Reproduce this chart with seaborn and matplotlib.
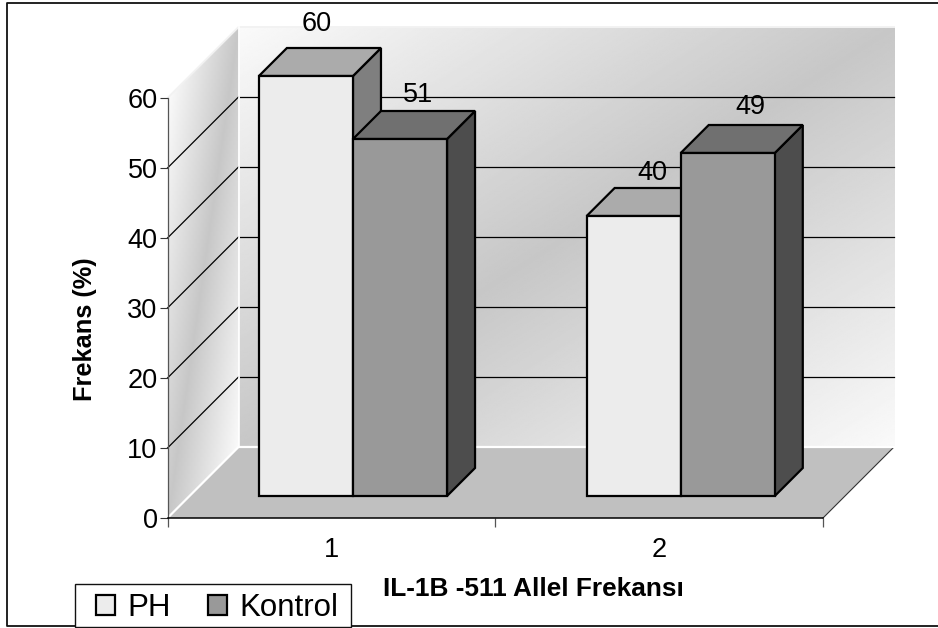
import numpy as np
import pandas as pd
import matplotlib
matplotlib.use("Agg")
import matplotlib.pyplot as plt
import seaborn as sns
from matplotlib.patches import Polygon, Rectangle
from matplotlib.transforms import Affine2D, IdentityTransform

# ---- data ----
alleles = ["1", "2"]
ph_values = [60, 40]
kontrol_values = [51, 49]
series_names = ["PH", "Kontrol"]
y_ticks = [0, 10, 20, 30, 40, 50, 60]
x_title = "IL-1B -511 Allel Frekansı"
y_title = "Frekans (%)"

# ---- layout (image pixels, y measured from the top) ----
W, H = 938, 628
AX_L, AX_R, AX_T, AX_B = 167.5, 823.0, 98.0, 518.0
WALL = 71.0          # depth of the chart box
BAR_SHIFT = (21.6, 22.0)  # bar front plane relative to the axis plane
BAR_DEPTH = 28.0
LABEL_OFFSETS = [[(32, 74), (40, 65.5)], [(40, 65.5), (44, 68)]]
FRONT = {"PH": "#ECECEC", "Kontrol": "#999999"}
TOP = {"PH": "#ABABAB", "Kontrol": "#707070"}
SIDE = {"PH": "#7F7F7F", "Kontrol": "#4D4D4D"}

plt.rcParams["font.family"] = ["Liberation Sans", "DejaVu Sans"]
fig = plt.figure(figsize=(W / 100, H / 100), dpi=100, facecolor="white")

# ---- chart box in pixel coordinates ----
bg = fig.add_axes([0, 0, 1, 1], zorder=0)
bg.axis("off")


def wall_shade(u, h):
    t = u + h
    return 0.98 - (0.98 - 0.78) * (1 - np.abs(t - 1))


xx, yy = np.meshgrid(np.linspace(0, 1, 300), np.linspace(0, 1, 300))
bg.imshow(wall_shade(xx, yy), cmap="gray", vmin=0, vmax=1, aspect="auto",
          extent=(AX_L + WALL, AX_R + WALL, AX_B - WALL, AX_T - WALL), origin="upper")
side_px = np.linspace(AX_T - WALL, AX_B, 500)
sx, sy = np.meshgrid(np.linspace(0, 1, 120), side_px)
side_h = (sy - (AX_T - WALL * sx)) / (AX_B - AX_T)
side_img = bg.imshow(wall_shade(sx, side_h), cmap="gray", vmin=0, vmax=1, aspect="auto",
                     extent=(AX_L, AX_L + WALL, AX_B, AX_T - WALL), origin="upper")
side_poly = Polygon([(AX_L, AX_T), (AX_L + WALL, AX_T - WALL), (AX_L + WALL, AX_B - WALL), (AX_L, AX_B)],
                    closed=True, facecolor="none", edgecolor="none", transform=bg.transData)
bg.add_patch(side_poly)
side_img.set_clip_path(side_poly)
bg.add_patch(Polygon([(AX_L, AX_B), (AX_R, AX_B), (AX_R + WALL, AX_B - WALL), (AX_L + WALL, AX_B - WALL)],
                     closed=True, facecolor="#C0C0C0", edgecolor="none"))
bg.plot([AX_R, AX_R + WALL], [AX_B, AX_B - WALL], color="#333333", lw=0.8)
px_per_unit = (AX_B - AX_T) / y_ticks[-1]
for level in y_ticks[1:-1]:
    yp = AX_B - level * px_per_unit
    bg.plot([AX_L, AX_L + WALL], [yp, yp - WALL], color="black", lw=0.9)
    bg.plot([AX_L + WALL + 1.5, AX_R + WALL], [yp - WALL, yp - WALL], color="black", lw=0.9)
# pale edges of the box
bg.plot([AX_L, AX_L + WALL, AX_R + WALL], [AX_T, AX_T - WALL, AX_T - WALL], color="#F2F2F2", lw=1.4)
bg.plot([AX_L, AX_L + WALL, AX_R + WALL], [AX_B, AX_B - WALL, AX_B - WALL], color="white", lw=1.6)
bg.plot([AX_L + WALL, AX_L + WALL], [AX_T - WALL, AX_B - WALL], color="white", lw=1.2)
# outer frame, running off the right side of the image
bg.plot([W + 5, 7, 7, W + 5], [2.5, 2.5, 626, 626], color="#111111", lw=1.3)
bg.add_patch(Rectangle((75.3, 584.3), 275.7, 42.4, facecolor="white", edgecolor="#111111", lw=1.0, zorder=5))
bg.set_xlim(0, W)
bg.set_ylim(H, 0)

# ---- bars through seaborn ----
ax = fig.add_axes([AX_L / W, 1 - AX_B / H, (AX_R - AX_L) / W, (AX_B - AX_T) / H], zorder=2)
ax.patch.set_visible(False)
df = pd.DataFrame({
    "Allel": alleles * 2,
    "Frekans": ph_values + kontrol_values,
    "Grup": [series_names[0]] * 2 + [series_names[1]] * 2,
})
sns.barplot(data=df, x="Allel", y="Frekans", hue="Grup", hue_order=series_names, order=alleles,
            palette=FRONT, width=0.574, gap=0, saturation=1, edgecolor="black", linewidth=1.6, ax=ax)
ax.set_xlim(-0.5, 1.5)
ax.set_ylim(y_ticks[0], y_ticks[-1])
ax.set_yticks(y_ticks)

front_shift = Affine2D().translate(*BAR_SHIFT)
for s, (name, cont) in enumerate(zip(series_names, ax.containers)):
    for c, bar in enumerate(cont):
        z = 3 + 2 * c * 10 + 2 * s
        (x0, y0), (x1, y1) = ax.transData.transform(
            [(bar.get_x(), 0), (bar.get_x() + bar.get_width(), bar.get_height())]) + np.array(BAR_SHIFT)
        d = BAR_DEPTH
        side = Polygon([(x1, y0), (x1 + d, y0 + d), (x1 + d, y1 + d), (x1, y1)], closed=True,
                       facecolor=SIDE[name], edgecolor="black", lw=1.6, joinstyle="miter",
                       transform=IdentityTransform(), clip_on=False, zorder=z)
        top = Polygon([(x0, y1), (x0 + d, y1 + d), (x1 + d, y1 + d), (x1, y1)], closed=True,
                      facecolor=TOP[name], edgecolor="black", lw=1.6, joinstyle="miter",
                      transform=IdentityTransform(), clip_on=False, zorder=z)
        ax.add_patch(side)
        ax.add_patch(top)
        bar.set_transform(ax.transData + front_shift)
        bar.set_clip_on(False)
        bar.set_zorder(z + 1)
        ax.annotate(f"{bar.get_height():.0f}",
                    xy=(bar.get_x() + bar.get_width() / 2, bar.get_height()),
                    xytext=LABEL_OFFSETS[s][c], textcoords="offset pixels",
                    ha="center", va="center", fontsize=19.5, color="black", zorder=40,
                    annotation_clip=False)

# ---- axes furniture ----
sns.despine(ax=ax, top=True, right=True)
ax.spines["left"].set_color("#555555")
ax.spines["left"].set_linewidth(0.9)
ax.spines["bottom"].set_color("black")
ax.spines["bottom"].set_linewidth(1.1)
ax.tick_params(axis="y", length=6, width=0.8, color="#333333", pad=1.2, labelsize=19.5)
ax.tick_params(axis="x", which="major", length=0, pad=13.5, labelsize=19.5)
ax.set_xticks([-0.5, 0.5, 1.5], minor=True)
ax.tick_params(axis="x", which="minor", length=6.2, width=0.9, color="#555555")
ax.set_xlabel(x_title, fontsize=18.9, fontweight="bold")
ax.set_ylabel(y_title, fontsize=18.3, fontweight="bold")
ax.xaxis.set_label_coords((533 - AX_L) / (AX_R - AX_L), (AX_B - 589) / (AX_B - AX_T), )
ax.xaxis.label.set_va("center")
ax.yaxis.set_label_coords((85 - AX_L) / (AX_R - AX_L), (AX_B - 329.5) / (AX_B - AX_T))
ax.yaxis.label.set_va("center")

handles, labels = ax.get_legend_handles_labels()
leg = ax.legend(handles, labels, ncol=2, frameon=False, loc="lower left",
                bbox_to_anchor=(96 / W, 1 - 623 / H), bbox_transform=fig.transFigure,
                borderpad=0, borderaxespad=0, fontsize=22.5, handlelength=0.62, handleheight=0.62,
                handletextpad=0.4, columnspacing=1.16, labelspacing=0)
leg.set_zorder(50)

fig.savefig("out.png", dpi=100)
